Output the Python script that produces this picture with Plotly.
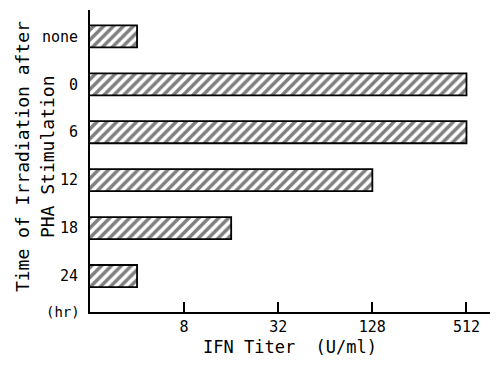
import plotly.graph_objects as go
import math

categories = ["none", "0", "6", "12", "18", "24"]
titers = [4, 512, 512, 128, 16, 4]
tick_vals = [8, 32, 128, 512]
tick_text = ["8", "32", "128", "512"]

FONT = "DejaVu Sans Mono"

fig = go.Figure()
fig.add_trace(go.Bar(
    y=categories, x=titers, orientation="h", width=0.46,
    marker=dict(
        color="white",
        line=dict(color="black", width=1.8),
        pattern=dict(shape="/", fgcolor="black", bgcolor="white", size=7, solidity=0.5),
    ),
    showlegend=False,
))

# page body has an 8px default margin, so the figure is drawn 8px smaller
fig.update_layout(
    width=490, height=357,
    margin=dict(l=82, r=8, t=2, b=53),
    paper_bgcolor="white", plot_bgcolor="white",
    font=dict(family=FONT, color="black"),
    xaxis=dict(
        type="log", range=[math.log10(2), math.log10(2 ** 9.5)],
        tickvals=tick_vals, ticktext=tick_text, automargin=False,
        ticks="inside", ticklen=10, tickwidth=1.8, tickcolor="black",
        showline=True, linecolor="black", linewidth=1.8,
        showgrid=False, zeroline=False,
        tickfont=dict(size=15, family=FONT),
        title=dict(text="IFN Titer  (U/ml)", font=dict(size=17, family=FONT), standoff=6),
    ),
    yaxis=dict(
        type="category", categoryorder="array", categoryarray=categories,
        range=[5.75, -0.55], automargin=False,
        showline=True, linecolor="black", linewidth=1.8,
        showgrid=False, zeroline=False, ticks="", ticklabelstandoff=7,
        tickfont=dict(size=15, family=FONT),
    ),
    annotations=[
        dict(text="(hr)", xref="paper", yref="y", x=0, y=5.75, xanchor="right",
             yanchor="middle", xshift=-8, showarrow=False, font=dict(size=14, family=FONT)),
        dict(text="Time of Irradiation after", xref="paper", yref="paper", x=0, y=0.513,
             xshift=-68, textangle=-90, xanchor="center", yanchor="middle",
             showarrow=False, font=dict(size=18, family=FONT)),
        dict(text="PHA Stimulation", xref="paper", yref="paper", x=0, y=0.513,
             xshift=-43, textangle=-90, xanchor="center", yanchor="middle",
             showarrow=False, font=dict(size=18, family=FONT)),
    ],
)

fig.write_html("out.html")
